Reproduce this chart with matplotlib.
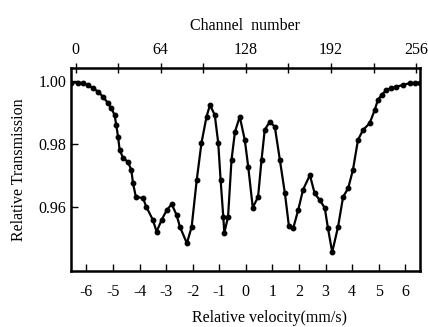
import matplotlib
matplotlib.use("Agg")
import matplotlib.pyplot as plt

# velocity (mm/s) and relative transmission
velocity = [-6.58, -6.32, -6.13, -5.94, -5.75, -5.56, -5.38, -5.19, -5.06, -4.94,
            -4.88, -4.81, -4.75, -4.62, -4.44, -4.31, -4.25, -4.14, -3.87, -3.75,
            -3.50, -3.36, -3.17, -2.98, -2.79, -2.61, -2.48, -2.22, -2.04, -1.85,
            -1.67, -1.48, -1.35, -1.17, -1.04, -0.95, -0.85, -0.81, -0.67, -0.54,
            -0.41, -0.23, -0.04, 0.09, 0.26, 0.46, 0.59, 0.71, 0.90, 1.09,
            1.28, 1.47, 1.62, 1.78, 1.97, 2.15, 2.41, 2.59, 2.78, 2.97,
            3.09, 3.25, 3.47, 3.66, 3.85, 4.03, 4.22, 4.41, 4.66, 4.85,
            4.97, 5.11, 5.29, 5.48, 5.67, 5.90, 6.17, 6.35, 6.54]
transmission = [0.9994, 0.9994, 0.9992, 0.9986, 0.9976, 0.9965, 0.9949, 0.9929, 0.9912, 0.9891,
                0.9860, 0.9822, 0.9780, 0.9755, 0.9743, 0.9717, 0.9676, 0.9632, 0.9628, 0.9601,
                0.9559, 0.9522, 0.9559, 0.9590, 0.9609, 0.9575, 0.9537, 0.9485, 0.9537, 0.9685,
                0.9803, 0.9886, 0.9923, 0.9891, 0.9803, 0.9685, 0.9569, 0.9518, 0.9569, 0.9749,
                0.9838, 0.9886, 0.9812, 0.9727, 0.9598, 0.9632, 0.9749, 0.9844, 0.9870, 0.9854,
                0.9749, 0.9643, 0.9540, 0.9532, 0.9590, 0.9654, 0.9701, 0.9643, 0.9622, 0.9597,
                0.9533, 0.9457, 0.9537, 0.9632, 0.9659, 0.9717, 0.9812, 0.9844, 0.9865, 0.9907,
                0.9939, 0.9955, 0.9970, 0.9976, 0.9981, 0.9986, 0.9992, 0.9993, 0.9994]

vel_ticks = [-6, -5, -4, -3, -2, -1, 0, 1, 2, 3, 4, 5, 6]
channel_ticks = [0, 64, 128, 192, 256]
channel_minor = [32, 96, 160, 224]
trans_ticks = [0.96, 0.98, 1.00]
vmax = 6.41  # velocity at channel 256

plt.rcParams['font.family'] = ['Liberation Serif', 'DejaVu Serif']

fig = plt.figure(figsize=(4.28, 3.27), dpi=100)
ax = fig.add_axes([0.166, 0.171, 0.815, 0.621])

ax.plot(velocity, transmission, color='black', lw=1.6, marker='o', ms=3.2)

ax.set_xlim(-6.58, 6.55)
ax.set_ylim(0.9397, 1.004)
ax.set_xticks(vel_ticks)
ax.set_xticklabels([str(t) for t in vel_ticks])
ax.set_yticks(trans_ticks)
ax.set_yticklabels(['%.2f' % t for t in trans_ticks])
ax.tick_params(direction='in', length=5, width=1, labelsize=11.5)
ax.tick_params(axis='x', pad=9)
ax.set_xlabel('Relative velocity(mm/s)', fontsize=11.5, labelpad=6)
ax.xaxis.set_label_coords(0.57, -0.19)
ax.set_ylabel('Relative Transmission', fontsize=11.5, labelpad=8)
for s in ax.spines.values():
    s.set_linewidth(1.8)

top = ax.secondary_xaxis('top', functions=(lambda v: (v + vmax) * 256 / (2 * vmax),
                                           lambda c: c * 2 * vmax / 256 - vmax))
top.set_xticks(channel_ticks)
top.set_xticks(channel_minor, minor=True)
top.tick_params(which='both', direction='inout', length=7, width=1, labelsize=11.5)
top.set_xlabel('Channel  number', fontsize=11.5, labelpad=9)

fig.savefig('out.png', dpi=100)
